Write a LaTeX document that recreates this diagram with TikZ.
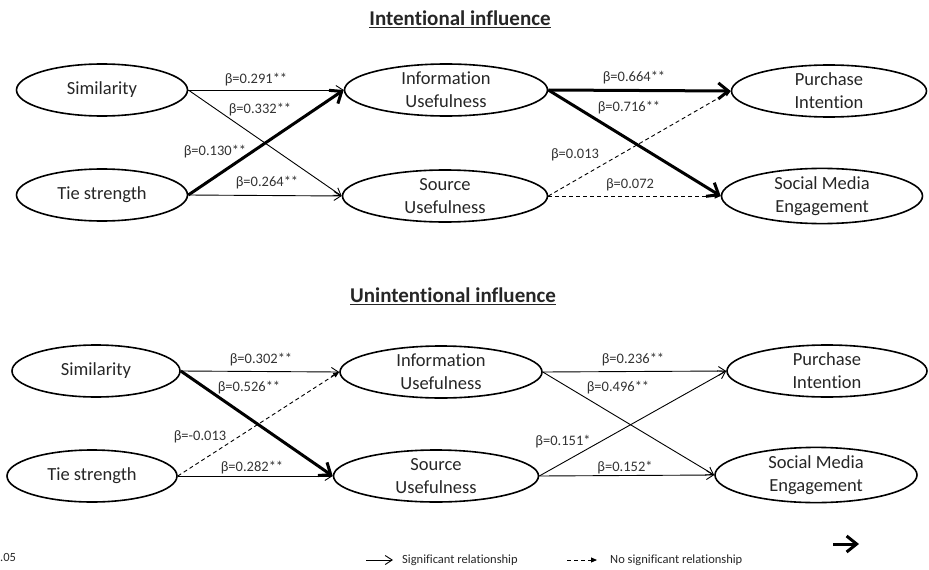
\documentclass[tikz,border=0pt]{standalone}
\usepackage{fontspec}
\setmainfont{Carlito}[Ligatures=CommonOff]
\usetikzlibrary{shapes.geometric,arrows.meta}

\begin{document}
\begin{tikzpicture}[x=1pt,y=-1pt,
  latent/.style={draw,ellipse,line width=1.6pt,inner sep=0pt,minimum height=52pt,align=center,text=black!85,font=\fontsize{18.5}{23}\selectfont},
  coef/.style={inner sep=0pt,text=black!80,font=\fontsize{14.5}{17}\selectfont},
  heading/.style={inner sep=0pt,text=black!85,font=\bfseries\fontsize{21}{25}\selectfont},
  legend/.style={anchor=west,inner sep=0pt,text=black!85,font=\fontsize{12.5}{15}\selectfont},
  sig/.style={line width=0.9pt,-{Straight Barb[length=7pt,width=9pt]}},
  strong/.style={line width=3pt,-{Straight Barb[length=10pt,width=16pt]}},
  nonsig/.style={line width=0.9pt,dash pattern=on 4pt off 3pt,-{Triangle[length=6pt,width=5pt]}}]
\useasboundingbox (0,0) rectangle (929,570);

% intentional influence
\node[heading] (titleA) at (460,19) {\underline{Intentional influence}};

\node[latent,minimum width=171pt] (simA) at (102,90) {Similarity};
\node[latent,minimum width=171pt] (tieA) at (102,195) {Tie strength};
\node[latent,minimum width=203pt] (infoA) at (446,90) {Information\\Usefulness};
\node[latent,minimum width=205pt] (srcA) at (445,196) {Source\\Usefulness};
\node[latent,minimum width=195pt] (purA) at (829,91) {Purchase\\Intention};
\node[latent,minimum width=201pt] (smeA) at (822,196) {Social Media\\Engagement};

\draw[sig] (simA.east) -- (infoA.west);
\draw[sig] (simA.east) -- (srcA.west);
\draw[strong] (tieA.east) -- (infoA.west);
\draw[sig] (tieA.east) -- (srcA.west);
\draw[strong] (infoA.east) -- (purA.west);
\draw[strong] (infoA.east) -- (smeA.west);
\draw[nonsig] (srcA.east) -- (purA.west);
\draw[nonsig] (srcA.east) -- (smeA.west);

\node[coef] (bA1) at (256,80) {β=0.291**};
\node[coef] (bA2) at (260,110) {β=0.332**};
\node[coef] (bA3) at (215,152) {β=0.130**};
\node[coef] (bA4) at (267,183) {β=0.264**};
\node[coef] (bA5) at (634,78) {β=0.664**};
\node[coef] (bA6) at (629,108) {β=0.716**};
\node[coef] (bA7) at (575,155) {β=0.013};
\node[coef] (bA8) at (630,185) {β=0.072};

% unintentional influence
\node[heading] (titleB) at (453,296) {\underline{Unintentional influence}};

\node[latent,minimum width=168pt] (simB) at (96,371) {Similarity};
\node[latent,minimum width=170pt] (tieB) at (92,476) {Tie strength};
\node[latent,minimum width=202pt] (infoB) at (441,372) {Information\\Usefulness};
\node[latent,minimum width=205pt] (srcB) at (436,476) {Source\\Usefulness};
\node[latent,minimum width=200pt] (purB) at (827,371) {Purchase\\Intention};
\node[latent,minimum width=202pt] (smeB) at (816,475) {Social Media\\Engagement};

\draw[sig] (simB.east) -- (infoB.west);
\draw[strong] (simB.east) -- (srcB.west);
\draw[nonsig] (tieB.east) -- (infoB.west);
\draw[sig] (tieB.east) -- (srcB.west);
\draw[sig] (infoB.east) -- (purB.west);
\draw[sig] (infoB.east) -- (smeB.west);
\draw[sig] (srcB.east) -- (purB.west);
\draw[sig] (srcB.east) -- (smeB.west);

\node[coef] (bB1) at (261,360) {β=0.302**};
\node[coef] (bB2) at (249,388) {β=0.526**};
\node[coef] (bB3) at (200,437) {β=-0.013};
\node[coef] (bB4) at (252,468) {β=0.282**};
\node[coef] (bB5) at (633,360) {β=0.236**};
\node[coef] (bB6) at (618,388) {β=0.496**};
\node[coef] (bB7) at (563,442) {β=0.151*};
\node[coef] (bB8) at (625,468) {β=0.152*};

% legend
\node[legend] (pval) at (0,557) {.05};
\coordinate (sigS) at (366,560);
\coordinate (sigE) at (393,560);
\draw[sig] (sigS) -- (sigE);
\node[legend] (sigT) at (402,560) {Significant relationship};
\coordinate (nsS) at (567,560);
\coordinate (nsE) at (597,560);
\draw[nonsig] (nsS) -- (nsE);
\node[legend] (nsT) at (610,560) {No significant relationship};
\coordinate (boldS) at (833,544);
\coordinate (boldE) at (859,544);
\draw[strong] (boldS) -- (boldE);
\end{tikzpicture}
\end{document}
